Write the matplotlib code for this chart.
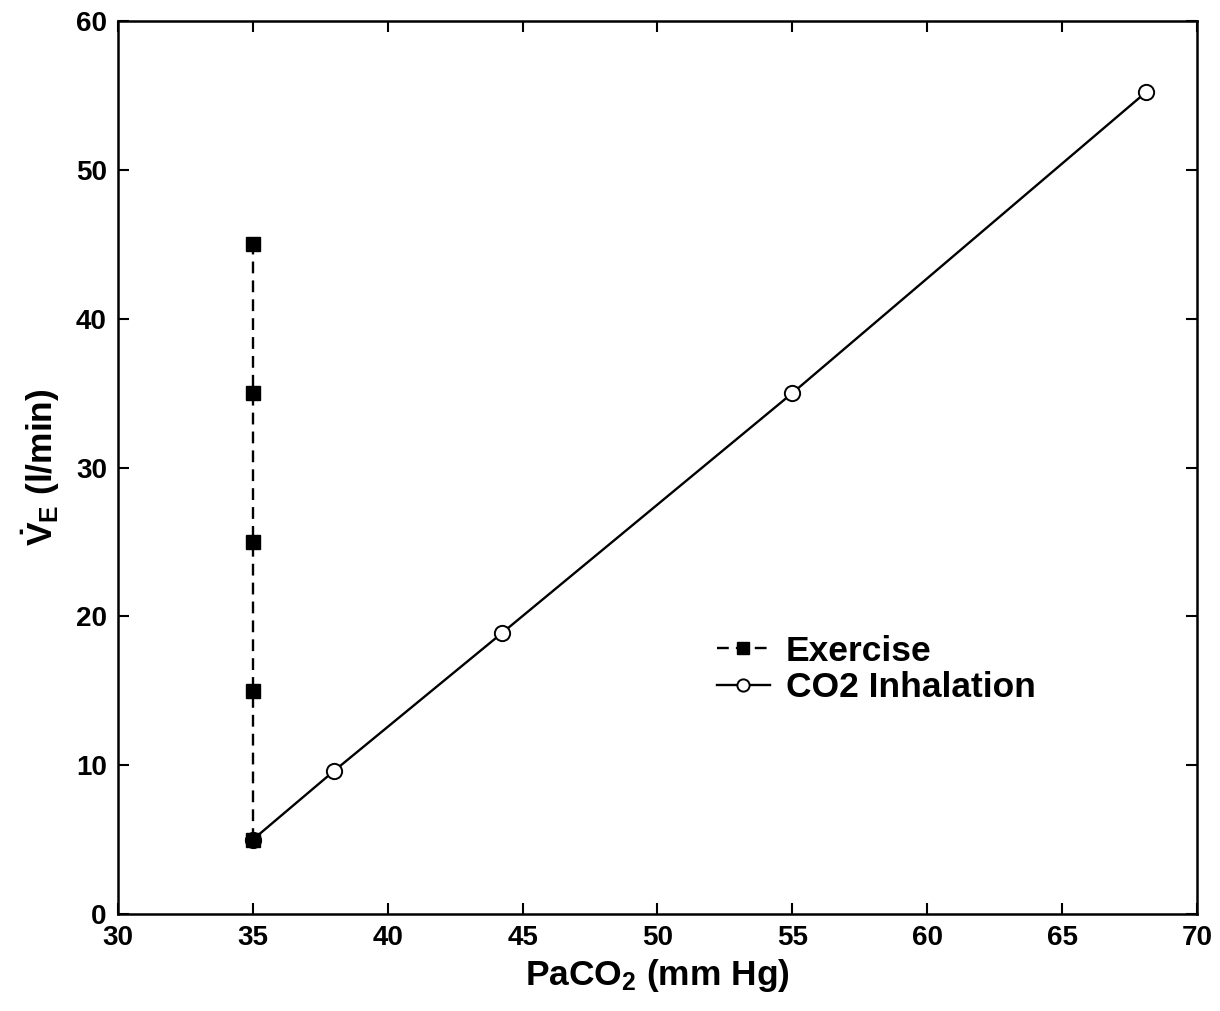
import matplotlib
matplotlib.use("Agg")
import matplotlib.pyplot as plt

plt.rcParams['font.family'] = ['Liberation Sans', 'DejaVu Sans']
plt.rcParams['font.weight'] = 'bold'
plt.rcParams['mathtext.fontset'] = 'custom'
plt.rcParams['mathtext.rm'] = 'Liberation Sans:bold'
plt.rcParams['mathtext.it'] = 'Liberation Sans:bold'
plt.rcParams['mathtext.bf'] = 'Liberation Sans:bold'

exercise_x = [35, 35, 35, 35, 35]
exercise_y = [5, 15, 25, 35, 45]
co2_x = [35, 38.0, 44.25, 55.0, 68.1]
co2_y = [5, 9.6, 18.9, 35.0, 55.2]
x_ticks = [30, 35, 40, 45, 50, 55, 60, 65, 70]
y_ticks = [0, 10, 20, 30, 40, 50, 60]

fig = plt.figure(figsize=(12.2, 10.11), dpi=100)
ax = fig.add_axes([0.0967, 0.0959, 0.8844, 0.8833])

ax.plot(co2_x, co2_y, color='black', linestyle='-', linewidth=1.7,
        marker='o', markersize=11, markerfacecolor='white', markeredgewidth=1.4,
        label='CO2 Inhalation', zorder=2)
ax.plot(exercise_x, exercise_y, color='black', linestyle=(0, (5, 3)), linewidth=1.7,
        marker='s', markersize=10, markerfacecolor='black', label='Exercise', zorder=3)

ax.set_xlim(30, 70)
ax.set_ylim(0, 60)
ax.set_xticks(x_ticks)
ax.set_yticks(y_ticks)
ax.tick_params(direction='in', length=8, width=1.5, top=True, right=True,
               labelsize=20, pad=8)
for lab in ax.get_xticklabels() + ax.get_yticklabels():
    lab.set_fontweight('bold')
for s in ax.spines.values():
    s.set_linewidth(1.8)

ax.set_xlabel(r'PaCO$_2$ (mm Hg)', fontsize=25.5, fontweight='bold', labelpad=4)
ax.set_ylabel(r'$\dot{V}_E$ (l/min)', fontsize=25.5, fontweight='bold', labelpad=10)

h, l = ax.get_legend_handles_labels()
leg = ax.legend(h[::-1], l[::-1], loc='upper left', bbox_to_anchor=(0.555, 0.313),
                frameon=False, fontsize=25.5, handlelength=1.5, handletextpad=0.45,
                borderpad=0, borderaxespad=0, labelspacing=0.1, markerscale=0.8)
for t in leg.get_texts():
    t.set_fontweight('bold')

fig.savefig('out.png', dpi=100)
